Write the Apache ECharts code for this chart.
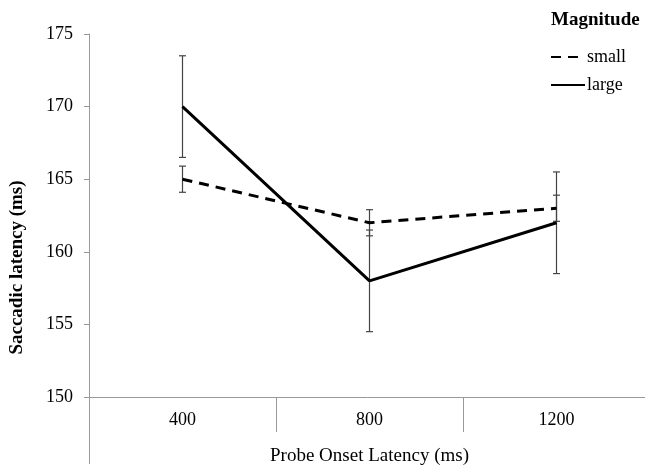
<!DOCTYPE html>
<html>
<head>
<meta charset="utf-8">
<script src="https://cdn.jsdelivr.net/npm/echarts@6/dist/echarts.min.js"></script>
<style>html,body{margin:0;padding:0;background:#fff}#c{width:645px;height:465px}</style>
</head>
<body>
<div id="c"></div>
<script>
var categories = ['400', '800', '1200'];
var smallMean = [165, 162, 163];
var smallErr = [0.9, 0.9, 0.9];
var largeMean = [170, 158, 162];
var largeErr = [3.5, 3.5, 3.5];
var yTicks = [150, 155, 160, 165, 170, 175];

var FONT = 'Liberation Serif';

function errData(mean, err) {
  return mean.map(function (m, i) { return [i, m - err[i], m + err[i]]; });
}
function errRender(params, api) {
  var x = api.value(0);
  var lo = api.coord([x, api.value(1)]);
  var hi = api.coord([x, api.value(2)]);
  var w = 3.5;
  var st = { stroke: '#444', lineWidth: 1.2 };
  return {
    type: 'group',
    children: [
      { type: 'line', shape: { x1: hi[0], y1: hi[1], x2: lo[0], y2: lo[1] }, style: st },
      { type: 'line', shape: { x1: hi[0] - w, y1: hi[1], x2: hi[0] + w, y2: hi[1] }, style: st },
      { type: 'line', shape: { x1: lo[0] - w, y1: lo[1], x2: lo[0] + w, y2: lo[1] }, style: st }
    ]
  };
}

var chart = echarts.init(document.getElementById('c'), null, { renderer: 'canvas' });
chart.setOption({
  animation: false,
  backgroundColor: '#fff',
  title: {
    text: 'Magnitude', left: 546, top: 6,
    textStyle: { fontFamily: FONT, fontWeight: 'bold', fontSize: 19, color: '#000' }
  },
  legend: {
    orient: 'vertical', left: 545, top: 43, itemGap: 10, itemWidth: 34, itemHeight: 19,
    itemStyle: { opacity: 0 },
    data: [{ name: 'small' }, { name: 'large' }],
    textStyle: { fontFamily: FONT, fontSize: 18, color: '#000', padding: [0, 0, 0, -3] }
  },
  grid: { left: 89, top: 34, bottom: 68, right: -5, containLabel: false, outerBoundsMode: 'none' },
  xAxis: [{
    type: 'category', data: categories, boundaryGap: true,
    axisLine: { lineStyle: { color: '#999', width: 1 } },
    axisTick: { show: true, length: 35, lineStyle: { color: '#999' } },
    axisLabel: { fontFamily: FONT, fontSize: 18, color: '#000', margin: 14 },
    name: 'Probe Onset Latency (ms)', nameLocation: 'middle', nameGap: 50,
    nameTextStyle: { fontFamily: FONT, fontSize: 19, color: '#000' }
  }, {
    type: 'category', data: categories, boundaryGap: true, position: 'bottom',
    axisLine: { show: false },
    axisLabel: { show: false },
    axisTick: { show: true, length: 67, interval: function (i) { return i === 0; }, lineStyle: { color: '#999' } }
  }],
  yAxis: {
    type: 'value', min: yTicks[0], max: yTicks[yTicks.length - 1], interval: 5,
    splitLine: { show: false },
    axisLine: { show: true, lineStyle: { color: '#999', width: 1 } },
    axisTick: { show: true, length: 5, lineStyle: { color: '#999' } },
    axisLabel: { fontFamily: FONT, fontSize: 18, color: '#000', margin: 16 },
    name: 'Saccadic latency (ms)', nameLocation: 'middle', nameGap: 62, nameRotate: 90,
    nameTextStyle: { fontFamily: FONT, fontSize: 19, fontWeight: 'bold', color: '#000', padding: [0, 104, 0, 0] }
  },
  series: [
    { type: 'custom', name: 'smallErr', renderItem: errRender, data: errData(smallMean, smallErr), z: 1, silent: true },
    { type: 'custom', name: 'largeErr', renderItem: errRender, data: errData(largeMean, largeErr), z: 1, silent: true },
    {
      type: 'line', name: 'small', data: smallMean, symbol: 'none', z: 3,
      lineStyle: { color: '#000', width: 3, type: [10, 7] }, itemStyle: { color: '#000' }
    },
    {
      type: 'line', name: 'large', data: largeMean, symbol: 'none', z: 3,
      lineStyle: { color: '#000', width: 3 }, itemStyle: { color: '#000' }
    }
  ]
});
</script>
</body>
</html>
